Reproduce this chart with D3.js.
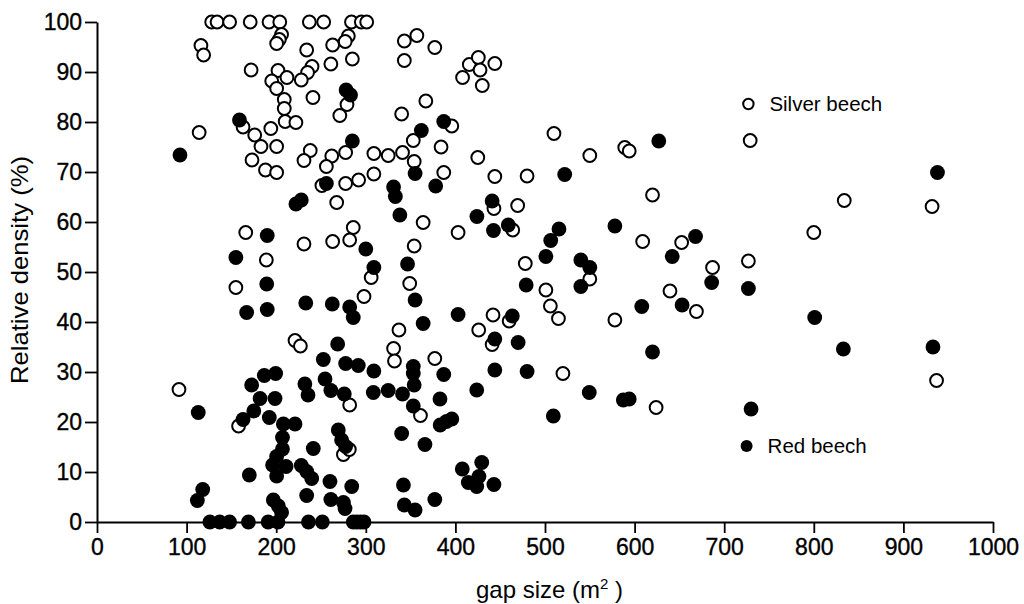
<!DOCTYPE html>
<html>
<head>
<meta charset="utf-8">
<script src="https://cdn.jsdelivr.net/npm/d3@7"></script>
<style>
  body { margin: 0; background: #fff; }
  svg { display: block; font-family: "Liberation Sans", Arial, Helvetica, sans-serif; }
</style>
</head>
<body>
<svg id="chart" width="1024" height="604"></svg>
<script>
// === data === //

// Silver beech (open circles): [gap size m2, relative density %]
var silverBeech = [
  [128, 100], [134, 100], [148, 100], [171, 100], [192, 100], [204, 100],
  [206, 97.5], [203.5, 96.5], [200.5, 95.7], [116, 95.3], [119, 93.4],
  [172, 90.4], [202, 90.3], [212, 88.9], [195, 88.2], [200.5, 86.7],
  [209, 84.5], [209, 82.7], [210, 80.1], [222, 79.9], [114, 77.9], [163, 79],
  [176, 77.4], [194, 78.7], [183, 75.1], [200.5, 75.1], [173, 72.4],
  [188, 70.4], [200.5, 69.9],
  [237, 100], [253, 100], [284, 100], [295, 100], [301, 100],
  [280.5, 97.2], [277, 96.1], [263, 95.4], [234, 94.4], [261, 91.6],
  [285, 92.6], [240, 91.1], [235, 89.9], [228, 88.4], [241, 84.9],
  [279, 83.5], [271, 81.3], [343, 96.2], [357, 97.3], [377, 94.9],
  [343, 92.3], [367, 84.2], [340, 81.6], [396, 79.2], [353, 76.3], [384, 75],
  [238, 74.3], [231, 72.3], [262, 73.2], [277.5, 73.9], [256, 71.1],
  [309, 73.7], [325, 73.3], [341, 73.9], [354, 72.1], [309, 69.6],
  [387, 69.9], [277.5, 67.7], [292, 68.4], [425, 72.9], [415.5, 91.5],
  [425.6, 92.9], [427.5, 90.4], [444, 91.7], [408, 88.9], [430, 87.3],
  [444, 69.1],
  [166, 57.9], [231, 55.6], [189, 52.4], [155, 46.9], [221, 36.3], [227, 35.2],
  [251, 67.3], [267.5, 63.9], [364, 59.9], [403, 57.9], [443, 62.7],
  [286, 58.9], [282, 56.4], [263, 56.1], [354, 55.2], [306, 48.9],
  [349, 47.7], [298, 45.1], [442, 41.4], [426, 38.4], [337, 38.4],
  [441, 35.5], [331, 34.7], [377, 32.7],
  [91.5, 26.5], [158, 19.2], [332, 32.2], [282, 23.4], [361, 21.3],
  [275, 13.5], [281.6, 14.5],
  [729, 76.3], [510, 77.7], [550, 73.3], [589, 74.9], [594, 74.2],
  [480, 69.2], [620, 65.4], [469.5, 63.3], [464, 58.4], [609, 56.1],
  [652.5, 55.9], [478, 51.7], [550, 48.6], [687, 50.9], [501, 46.4],
  [639.5, 46.2], [506, 43.2], [515, 40.7], [669, 42.1], [578, 40.4],
  [460, 40.2],
  [834, 64.3], [932, 63.1], [800, 57.9], [727, 52.2],
  [520, 29.7], [624, 22.9], [937, 28.3]
];

// Red beech (filled circles): [gap size m2, relative density %]
var redBeech = [
  [159, 80.4], [92.6, 73.4], [278, 86.4], [283, 85.4], [387, 80.1],
  [362, 78.3], [285, 76.2], [355, 69.7], [256, 67.7], [331, 67], [333, 65.1],
  [378, 67.2], [222, 63.6], [228, 64.4], [190, 57.3], [155, 52.9],
  [189.4, 47.6], [167, 41.9], [190, 42.5], [233, 43.8], [338, 61.4],
  [441, 64.2], [424, 61.1], [442.5, 58.3], [300, 54.6], [309, 50.9],
  [346.6, 51.6], [355, 44.4], [262.6, 43.6], [282, 43], [286, 40.9],
  [403, 41.5], [364, 39.7], [268.6, 35.6], [444, 36.6], [252.6, 32.5],
  [113, 21.9], [118, 6.5], [112, 4.3], [163, 20.5], [175, 22.2],
  [172.6, 27.4], [182, 24.7], [186.7, 29.3], [199.4, 29.7], [198.7, 24.7],
  [192.3, 20.9], [208, 19.6], [221, 19.6], [207, 16.9], [207, 14.6],
  [200.5, 13.1], [196, 11.4], [211, 11.1], [200.5, 9.2], [170, 9.4],
  [228, 11.3], [232, 27.6], [235.5, 25.4], [241.4, 14.7], [234, 5.3],
  [196.8, 4.4], [202.4, 3.2], [206, 1.9],
  [126, 0], [137, 0], [148, 0], [169, 0], [191, 0], [202, 0], [236, 0],
  [251.5, 0], [286, 0], [290, 0], [294, 0], [298, 0],
  [277.5, 31.7], [291.6, 31.3], [309, 30.2], [353, 31.1], [353, 29.7],
  [354, 27.4], [387, 29.5], [444, 30.4], [254.5, 28.6], [261, 26.3],
  [276, 25.6], [308.4, 25.9], [325, 26.3], [341, 25.6], [353, 23.2],
  [382.8, 24.6], [423.8, 26.4], [269.3, 18.4], [273, 16.4], [277.5, 15.1],
  [340, 17.7], [366, 15.5], [383, 19.4], [390, 20.1], [396, 20.6],
  [234, 10.1], [239.6, 8.7], [260, 8.1], [284.3, 7.1], [261, 4.5],
  [275, 3.9], [276.8, 2.7], [342, 7.4], [343, 3.4], [355, 2.4], [377, 4.5],
  [407.7, 10.6], [429.4, 11.9], [426.3, 9.1], [414.4, 7.9], [423.8, 7.1],
  [443, 7.5],
  [627, 76.2], [522, 69.5], [459, 59.4], [515.6, 58.6], [506.4, 56.3],
  [501, 53.1], [578, 59.2], [540, 52.4], [550, 50.9], [540, 47.1],
  [479, 47.4], [668, 57.1], [642, 53.1], [686, 47.9], [727, 46.7],
  [608, 43.1], [653, 43.4], [463.5, 41.2], [470, 35.9], [620, 34],
  [938, 69.9], [801, 40.9], [833, 34.6], [933, 35],
  [480, 30.1], [549.4, 25.9], [587.4, 24.4], [594, 24.6], [509.3, 21.2],
  [730, 22.6]
];

var xTicks = [0, 100, 200, 300, 400, 500, 600, 700, 800, 900, 1000];
var yTicks = [0, 10, 20, 30, 40, 50, 60, 70, 80, 90, 100];

// legend entries: [label, filled?, x value, y value]
var legendItems = [
  ["Silver beech", false, 727, 83.6],
  ["Red beech", true, 725, 15.2]
];

// === layout === //
var margin = {left: 97, right: 31, top: 22, bottom: 82};
var width = 1024 - margin.left - margin.right;
var height = 604 - margin.top - margin.bottom;

var tickFont = 23;
var dotR = 6.4;

var svg = d3.select("#chart");
var g = svg.append("g").attr("transform", "translate(" + margin.left + "," + margin.top + ")");

var x = d3.scaleLinear().domain([0, 1000]).range([0, width]);
var y = d3.scaleLinear().domain([0, 100]).range([height, 0]);

// axes
var xAxis = g.append("g")
  .attr("transform", "translate(0," + height + ")")
  .call(d3.axisBottom(x).tickValues(xTicks).tickFormat(d3.format("d"))
    .tickSize(11).tickSizeOuter(0).tickPadding(6))

var yAxis = g.append("g")
  .call(d3.axisLeft(y).tickValues(yTicks).tickFormat(d3.format("d"))
    .tickSize(12).tickSizeOuter(0).tickPadding(3))

g.selectAll(".domain").attr("stroke", "#000").attr("stroke-width", 2)
g.selectAll(".tick line").attr("stroke", "#000").attr("stroke-width", 1.8)
g.selectAll(".tick text")
  .attr("fill", "#000")
  .attr("stroke", "#000")
  .attr("stroke-width", 0.35)
  .style("font-size", tickFont + "px")
  .style("font-family", "'Liberation Sans', Arial, sans-serif")

// axis titles
var xTitle = svg.append("text")
  .attr("x", margin.left + x(505))
  .attr("y", 598)
  .attr("text-anchor", "middle")
  .style("font-size", "24px")
xTitle.append("tspan").text("gap size (m")
xTitle.append("tspan").attr("dy", -9).style("font-size", "15px").text("2")
xTitle.append("tspan").attr("dy", 9).text(" )")

svg.append("text")
  .attr("transform", "translate(28," + (margin.top + y(50.4)) + ") rotate(-90)")
  .attr("text-anchor", "middle")
  .style("font-size", "24px")
  .attr("textLength", 228)
  .attr("lengthAdjust", "spacingAndGlyphs")
  .text("Relative density (%)")

// points: open first, filled on top
g.append("g").selectAll("circle")
  .data(silverBeech)
  .join("circle")
  .attr("cx", d => x(d[0]))
  .attr("cy", d => y(d[1]))
  .attr("r", dotR)
  .attr("fill", "#fff")
  .attr("stroke", "#000")
  .attr("stroke-width", 2)

g.append("g").selectAll("circle")
  .data(redBeech)
  .join("circle")
  .attr("cx", d => x(d[0]))
  .attr("cy", d => y(d[1]))
  .attr("r", dotR + 1)
  .attr("fill", "#000")

// legend
var leg = g.append("g").selectAll("g")
  .data(legendItems)
  .join("g")
  .attr("transform", d => "translate(" + x(d[2]) + "," + y(d[3]) + ")")

leg.append("circle")
  .attr("r", d => d[1] ? 6 : 5.2)
  .attr("fill", d => d[1] ? "#000" : "#fff")
  .attr("stroke", d => d[1] ? "none" : "#000")
  .attr("stroke-width", 2)

leg.append("text")
  .attr("x", 21)
  .attr("y", 7)
  .style("font-size", "20.5px")
  .text(d => d[0])
</script>
</body>
</html>
